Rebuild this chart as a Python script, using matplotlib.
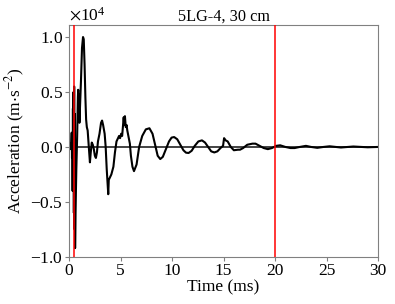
import numpy as np
import matplotlib
matplotlib.use("Agg")
import matplotlib.pyplot as plt

# acceleration trace, time in ms, acceleration in units of 1e4 m/s^2
time_ms = [
    0.0, 0.05, 0.1, 0.15, 0.2, 0.25, 0.28, 0.31, 0.34, 0.37, 0.40, 0.43, 0.46,
    0.49, 0.52, 0.55, 0.58, 0.62, 0.7, 0.78, 0.85, 0.88, 0.92, 0.96, 1.0, 1.05,
    1.15, 1.25, 1.35, 1.42, 1.5, 1.58, 1.65, 1.72, 1.8, 1.88, 1.95, 2.02, 2.1,
    2.2, 2.3, 2.4, 2.5, 2.6, 2.7, 2.8, 2.95, 3.1, 3.2, 3.3, 3.45, 3.55, 3.65,
    3.75, 3.8, 3.85, 3.95, 4.1, 4.3, 4.45, 4.6, 4.75, 4.85, 4.95, 5.05, 5.15,
    5.25, 5.3, 5.35, 5.42, 5.5, 5.58, 5.65, 5.75, 5.9, 6.0, 6.15, 6.3,
    6.55, 6.8, 7.1, 7.45, 7.8, 8.1, 8.4, 8.6, 8.85, 9.1, 9.4, 9.7, 9.95, 10.2,
    10.5, 10.8, 11.1, 11.35, 11.6, 11.9, 12.2, 12.55, 12.9, 13.2, 13.5, 13.8,
    14.1, 14.4, 14.7, 14.95, 15.05, 15.2, 15.4, 15.7, 16.0, 16.4, 16.6, 16.9,
    17.3, 17.8, 18.1, 18.5, 18.9, 19.3, 19.7, 20.1, 20.5, 21.0, 21.5, 21.9,
    22.4, 23.0, 23.5, 24.1, 24.7, 25.3, 25.9, 26.4, 27.0, 27.6, 28.3, 29.0, 30.0,
]
accel_1e4 = [
    0.0, 0.01, -0.02, 0.03, 0.0, 0.13, -0.1, 0.1, -0.4, 0.35, -0.3, 0.5, -0.6,
    0.55, -0.75, 0.3, -0.92, -0.6, -0.2, 0.1, 0.45, 0.52, 0.3, 0.48, 0.22, 0.35,
    0.6, 0.9, 1.0, 0.98, 0.75, 0.45, 0.25, 0.18, 0.15, 0.05, -0.05, -0.14, -0.05,
    0.04, 0.02, -0.02, -0.08, -0.1, -0.05, 0.05, 0.12, 0.22, 0.24, 0.2, 0.12, 0.0,
    -0.2, -0.35, -0.43, -0.3, -0.28, -0.25, -0.18, -0.05, 0.05, 0.08, 0.1, 0.08,
    0.12, 0.1, 0.22, 0.27, 0.2, 0.28, 0.18, 0.2, 0.15, 0.1, 0.03, -0.08, -0.18,
    -0.22, -0.16, 0.0, 0.1, 0.16, 0.17, 0.12, 0.0, -0.08, -0.11, -0.09, -0.02,
    0.05, 0.085, 0.09, 0.07, 0.02, -0.03, -0.052, -0.055, -0.035, 0.01, 0.05,
    0.06, 0.04, 0.0, -0.04, -0.05, -0.04, -0.01, 0.01, 0.08, 0.06, 0.05, 0.0,
    -0.03, -0.025, -0.025, -0.01, 0.02, 0.03, 0.03, 0.01, -0.01, -0.02, -0.01,
    0.01, 0.015, 0.0, -0.01, -0.01, 0.0, 0.01, 0.0, -0.008, 0.0, 0.006, 0.0,
    -0.005, 0.0, 0.004, 0.0, -0.003, 0.0,
]
window_ms = [0.45, 20.0]

plt.rcParams["font.family"] = ["Liberation Serif", "DejaVu Serif"]
plt.rcParams["mathtext.fontset"] = "stix"
plt.rcParams["font.size"] = 12.5

fig = plt.figure(figsize=(3.95, 3.04), dpi=100)
ax = fig.add_axes([0.175, 0.155, 0.782, 0.763])

accel = np.array(accel_1e4) * 1e4
ax.axhline(0, color="#222222", lw=1.2, zorder=1)
ax.plot(time_ms, accel, color="black", lw=1.5, zorder=2)
for t in window_ms:
    ax.axvline(t, color="red", lw=1.1, zorder=3)

ax.set_xlim(0, 30)
ax.set_ylim(-1.0e4, 1.11e4)
ax.set_xticks([0, 5, 10, 15, 20, 25, 30])
ax.set_yticks([-1.0e4, -0.5e4, 0, 0.5e4, 1.0e4])
ax.ticklabel_format(axis="y", style="sci", scilimits=(0, 0), useMathText=True)
ax.set_xlabel("Time (ms)", labelpad=0)
ax.set_ylabel(r"Acceleration (m$\cdot$s$^{-2}$)", labelpad=2)
ax.set_title("5LG-4, 30 cm", fontsize=11.7, pad=3)
for s in ax.spines.values():
    s.set_color("gray")
ax.tick_params(length=3, color="gray", pad=1.5)

fig.savefig("out.png", dpi=100)
